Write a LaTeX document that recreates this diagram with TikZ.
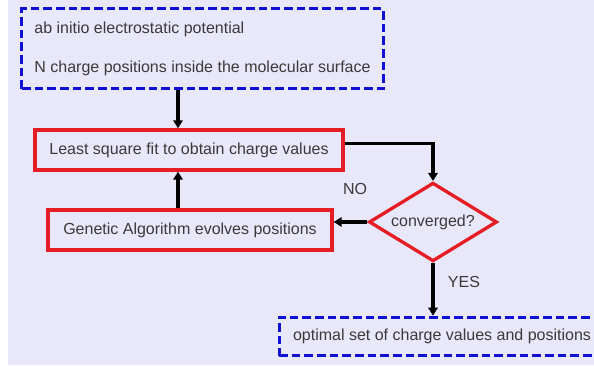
\documentclass[tikz,border=0pt]{standalone}
\usepackage{fontspec}
\setmainfont{Liberation Sans}
\usetikzlibrary{shapes.geometric}
\usetikzlibrary{arrows.meta}

\definecolor{bglav}{RGB}{232,232,250}
\definecolor{dashblue}{RGB}{16,16,210}
\definecolor{boxred}{RGB}{228,30,36}
\definecolor{textgray}{RGB}{58,58,58}

\begin{document}
\begin{tikzpicture}[x=0.75pt, y=-0.75pt, font=\fontsize{12}{14.4}\selectfont, text=textgray,
      inputbox/.style={rectangle, draw=dashblue, line width=2.25pt, dash pattern=on 6.5pt off 3pt, minimum height=29pt},
      stepbox/.style={rectangle, draw=boxred, line width=2.5pt, minimum height=30pt},
      flow/.style={draw=black, line width=2.5pt, -{Triangle[length=6pt, width=7pt]}}]

      \useasboundingbox (0, 0) rectangle (594, 366);
      \fill[bglav] (8, 0) rectangle (594, 365); % page background

      \node[inputbox, minimum width=271pt, minimum height=60pt, align=left] (input) at (202.5, 49)
        {ab initio electrostatic potential\\[15pt]N charge positions inside the molecular surface};

      \node[stepbox, minimum width=231pt] (lsq) at (189, 150) {Least square fit to obtain charge values};
      \node[stepbox, minimum width=213pt] (ga) at (190, 230) {Genetic Algorithm evolves positions};

      \node[diamond, aspect=1.62, draw=boxred, line width=2.5pt, minimum width=96pt, minimum height=59pt, inner sep=0pt] (test) at (433, 222) {converged?};

      \node[inputbox, minimum width=244.5pt] (result) at (442, 336.5) {optimal set of charge values and positions};

      \node (no) at (355, 189) {NO};
      \node (yes) at (464, 282) {YES};

      \coordinate (col) at (178, 0); % x of the vertical arrows on the left

      \draw[flow] (input.south -| col) -- (lsq.north -| col);
      \draw[flow] (ga.north -| col) -- (lsq.south -| col);
      \draw[flow] ([yshift=5pt]lsq.east) -| (test.north);
      \draw[flow] (test.west) -- (test.west -| ga.east);
      \draw[flow] (test.south) -- (result.north -| test.south);
    \end{tikzpicture}
\end{document}
